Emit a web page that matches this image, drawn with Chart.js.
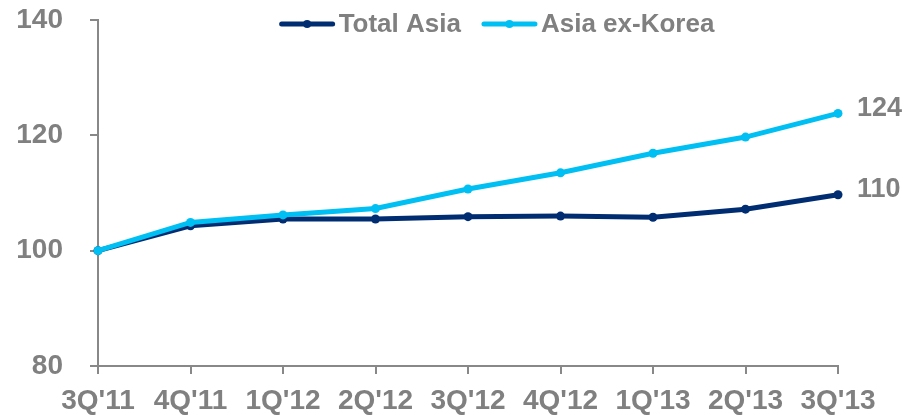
<!DOCTYPE html>
<html>
<head>
<meta charset="utf-8">
<script src="https://cdn.jsdelivr.net/npm/chart.js@4"></script>
<style>
  html, body { margin: 0; padding: 0; background: #fff; }
  #wrap { width: 920px; height: 415px; }
</style>
</head>
<body>
<div id="wrap"><canvas id="chart" width="920" height="415"></canvas></div>
<script>
// Dữ liệu
const quarters = ["3Q'11", "4Q'11", "1Q'12", "2Q'12", "3Q'12", "4Q'12", "1Q'13", "2Q'13", "3Q'13"];
const totalAsia = [100, 104.3, 105.5, 105.5, 105.9, 106.0, 105.8, 107.2, 109.7];
const asiaExKorea = [100, 104.9, 106.2, 107.3, 110.7, 113.5, 116.9, 119.7, 123.8];
const yTicks = [80, 100, 120, 140];

const gray = '#808080';
const navy = '#002D72';
const sky = '#00BFF3';
const family = '"Liberation Sans", Arial, sans-serif';

Chart.defaults.font.family = family;

// Chú thích tự vẽ (đường + chấm)
const legendPlugin = {
    id: 'lineLegend',
    afterDraw(chart) {
        const ctx = chart.ctx;
        const items = [
            { label: 'Total Asia', color: navy },
            { label: 'Asia ex-Korea', color: sky }
        ];
        const sym = 55, gap = 4, between = 21;
        ctx.save();
        ctx.font = 'bold 26px ' + family;
        let total = 0;
        items.forEach((it, i) => {
            it.w = ctx.measureText(it.label).width;
            total += sym + gap + it.w + (i > 0 ? between : 0);
        });
        let x = 497 - total / 2;
        const y = 24;
        items.forEach((it, i) => {
            if (i > 0) x += between;
            ctx.strokeStyle = it.color;
            ctx.lineWidth = 5;
            ctx.lineCap = 'round';
            ctx.beginPath();
            ctx.moveTo(x + 2, y);
            ctx.lineTo(x + sym - 2, y);
            ctx.stroke();
            ctx.fillStyle = it.color;
            ctx.beginPath();
            ctx.arc(x + sym / 2, y, 4, 0, Math.PI * 2);
            ctx.fill();
            x += sym + gap;
            ctx.fillStyle = gray;
            ctx.textBaseline = 'middle';
            ctx.textAlign = 'left';
            ctx.fillText(it.label, x, y + 1);
            x += it.w;
        });
        ctx.restore();
    }
};

// Nhãn giá trị ở điểm cuối
const endLabelPlugin = {
    id: 'endLabels',
    afterDatasetsDraw(chart) {
        const ctx = chart.ctx;
        ctx.save();
        ctx.font = 'bold 27px ' + family;
        ctx.fillStyle = gray;
        ctx.textBaseline = 'middle';
        ctx.textAlign = 'left';
        chart.data.datasets.forEach((ds, i) => {
            const meta = chart.getDatasetMeta(i);
            const last = meta.data[meta.data.length - 1];
            const v = ds.data[ds.data.length - 1];
            ctx.fillText(Math.round(v), last.x + 19, last.y - 5);
        });
        ctx.restore();
    }
};

const ctx = document.getElementById('chart').getContext('2d');
const chart = new Chart(ctx, {
    type: 'line',
    data: {
        labels: quarters,
        datasets: [{
            label: 'Asia ex-Korea',
            data: asiaExKorea,
            borderColor: sky,
            backgroundColor: sky,
            borderWidth: 5,
            pointRadius: 4.5,
            pointBorderWidth: 0,
            pointHoverRadius: 4.5,
            tension: 0,
            order: 0,
            clip: false
        }, {
            label: 'Total Asia',
            data: totalAsia,
            borderColor: navy,
            backgroundColor: navy,
            borderWidth: 5,
            pointRadius: 4.5,
            pointBorderWidth: 0,
            pointHoverRadius: 4.5,
            tension: 0,
            order: 1,
            clip: false
        }]
    },
    options: {
        responsive: false,
        animation: false,
        devicePixelRatio: 1,
        layout: { padding: { top: 20, right: 82, left: 0, bottom: 0 } },
        plugins: {
            legend: { display: false },
            tooltip: { enabled: false }
        },
        scales: {
            x: {
                offset: false,
                afterFit: (s) => { s.height = 49; s.paddingLeft = 0; s.paddingRight = 0; },
                grid: { display: true, drawOnChartArea: false, tickLength: 8, color: '#888', lineWidth: 2 },
                border: { display: true, color: '#888', width: 2 },
                ticks: { color: gray, font: { family: family, size: 28, weight: 'bold' }, padding: 10, maxRotation: 0, autoSkip: false }
            },
            y: {
                min: 80,
                max: 140,
                afterBuildTicks: (s) => { s.ticks = yTicks.map(v => ({ value: v })); },
                afterFit: (s) => { s.width = 98; s.paddingTop = 0; s.paddingBottom = 0; },
                grid: { display: true, drawOnChartArea: false, tickLength: 8, color: '#888', lineWidth: 2 },
                border: { display: true, color: '#888', width: 2 },
                ticks: { color: gray, font: { family: family, size: 28, weight: 'bold' }, padding: 27 }
            }
        }
    },
    plugins: [legendPlugin, endLabelPlugin]
});
</script>
</body>
</html>
